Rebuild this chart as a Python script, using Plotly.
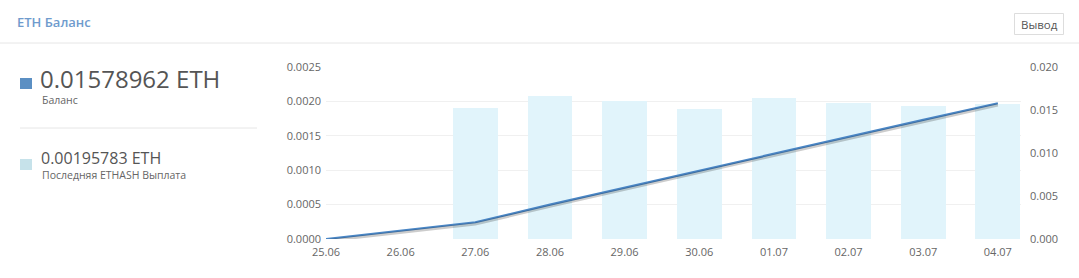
import plotly.graph_objects as go

dates = ["25.06", "26.06", "27.06", "28.06", "29.06", "30.06", "01.07", "02.07", "03.07", "04.07"]
payouts = [None, None, 0.00191, 0.00208, 0.00201, 0.00189, 0.00205, 0.00198, 0.00194, 0.00195783]
balance = [0.0, 0.00097, 0.00195, 0.00400, 0.00598, 0.00790, 0.00995, 0.01190, 0.01385, 0.01578962]

left_ticks = [0.0, 0.0005, 0.0010, 0.0015, 0.0020, 0.0025]
right_ticks = [0.0, 0.005, 0.010, 0.015, 0.020]

W, H = 1079, 278
def px(x): return x / W
def py(y): return 1 - y / H

FONT = "Open Sans"
x0, x1 = 326, 1021
ytop, ybot = 67, 239

fig = go.Figure()
fig.add_trace(go.Bar(x=list(range(len(dates))), y=payouts, width=0.6,
                     marker=dict(color="#e1f4fb", line=dict(width=0)),
                     yaxis="y", hoverinfo="skip"))
# soft shadow under the balance line
fig.add_trace(go.Scatter(x=list(range(len(dates))), y=balance, mode="lines",
                         line=dict(color="rgba(0,0,0,0.2)", width=3),
                         yaxis="y3", hoverinfo="skip"))
fig.add_trace(go.Scatter(x=list(range(len(dates))), y=balance, mode="lines",
                         line=dict(color="#4a86c5", width=2.2),
                         yaxis="y2"))

shift = 1.8 / (ybot - ytop) * 0.02
dom_y = [py(ybot), py(ytop)]
fig.update_layout(
    width=W, height=H, margin=dict(l=0, r=0, t=0, b=0, autoexpand=False),
    paper_bgcolor="white", plot_bgcolor="white", showlegend=False,
    font=dict(family=FONT, color="#666", size=11),
    bargap=0,
    xaxis=dict(domain=[px(x0), px(x1)], range=[0, 9.31], tickmode="array",
               tickvals=list(range(len(dates))), ticktext=dates, showgrid=False,
               zeroline=False, showline=False, ticks="", automargin=False,
               ticklabelstandoff=5, tickfont=dict(size=11, color="#666")),
    yaxis=dict(domain=dom_y, range=[0, 0.0025], tickvals=left_ticks, tickformat=".4f",
               showgrid=True, gridcolor="#f0f0f0", gridwidth=1, zeroline=False, automargin=False,
               ticks="", ticklabelstandoff=4, tickfont=dict(size=11, color="#666")),
    yaxis2=dict(domain=dom_y, range=[0, 0.020], tickvals=right_ticks, tickformat=".3f",
                overlaying="y", side="right", showgrid=False, zeroline=False, automargin=False,
                ticks="", ticklabelstandoff=8, tickfont=dict(size=11, color="#666")),
    yaxis3=dict(domain=dom_y, range=[shift, 0.020 + shift], overlaying="y",
                visible=False, automargin=False),
)

shapes = [
    dict(type="line", xref="paper", yref="paper", x0=0, x1=1, y0=py(43), y1=py(43),
         line=dict(color="#e6e6e6", width=1)),
    dict(type="line", xref="paper", yref="paper", x0=px(20), x1=px(257), y0=py(128), y1=py(128),
         line=dict(color="#e6e6e6", width=1)),
    dict(type="rect", xref="paper", yref="paper", x0=px(20), x1=px(32), y0=py(89), y1=py(78),
         fillcolor="#5b8fc3", line=dict(width=0)),
    dict(type="rect", xref="paper", yref="paper", x0=px(20), x1=px(32), y0=py(170), y1=py(159),
         fillcolor="#c6e2ea", line=dict(width=0)),
    dict(type="rect", xref="paper", yref="paper", x0=px(1014.5), x1=px(1063.5), y0=py(34.5), y1=py(13.5),
         fillcolor="white", line=dict(color="#dddddd", width=1)),
]
fig.update_layout(shapes=shapes)

ann = [
    dict(text="ETH Баланс", x=px(15), y=py(22), font=dict(size=13, color="#6f9bcd", weight=600)),
    dict(text="0.01578962 ETH", x=px(38), y=py(78), font=dict(size=24, color="#555")),
    dict(text="Баланс", x=px(40), y=py(100), font=dict(size=10.5, color="#666")),
    dict(text="0.00195783 ETH", x=px(39), y=py(158), font=dict(size=16, color="#555")),
    dict(text="Последняя ETHASH Выплата", x=px(40), y=py(175), font=dict(size=10.5, color="#666")),
    dict(text="Вывод", x=px(1039), y=py(24), xanchor="center", font=dict(size=11.5, color="#555")),
]
for a in ann:
    a.setdefault("xanchor", "left")
    a.update(xref="paper", yref="paper", yanchor="middle", showarrow=False)
    a["font"].setdefault("family", FONT)
fig.update_layout(annotations=ann)

fig.write_html("out.html")
